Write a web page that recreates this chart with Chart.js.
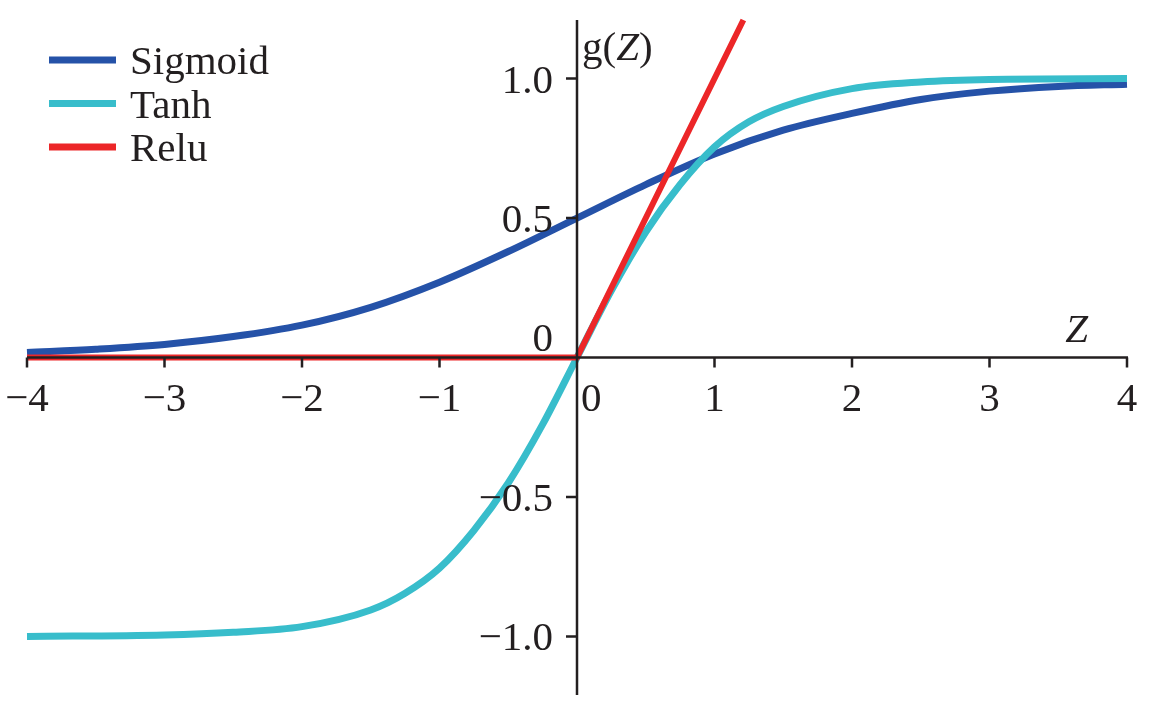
<!DOCTYPE html>
<html>
<head>
<meta charset="utf-8">
<script src="https://cdn.jsdelivr.net/npm/chart.js@4"></script>
<style>
  body { margin: 0; background: #fff; }
  canvas { display: block; }
</style>
</head>
<body>
<canvas id="actChart" width="1151" height="707"></canvas>
<script>
// values
const sigmoidZ = [-4, -3.5, -3, -2.5, -2, -1.5, -1, -0.5, 0, 0.5, 1, 1.5, 2, 2.5, 3, 3.5, 4];
const sigmoidG = [0.018, 0.03, 0.047, 0.075, 0.116, 0.18, 0.27, 0.38, 0.5, 0.62, 0.73, 0.815, 0.875, 0.925, 0.955, 0.972, 0.98];

const tanhZ = [-4, -3, -2.5, -2, -1.5, -1.25, -1, -0.75, -0.5, -0.25, 0, 0.25, 0.5, 0.75, 1, 1.25, 1.5, 2, 2.5, 3, 4];
const tanhG = [-1.0, -0.995, -0.985, -0.965, -0.905, -0.845, -0.755, -0.62, -0.45, -0.24, 0, 0.24, 0.45, 0.62, 0.755, 0.845, 0.9, 0.964, 0.988, 0.997, 1.0];

const reluZ = [-4, 0, 1.21];
const reluG = [0, 0, 1.21];

const xTicks = [-4, -3, -2, -1, 1, 2, 3, 4];
const yTicks = [-1, -0.5, 0.5, 1];
const yTickLabels = ['\u22121.0', '\u22120.5', '0.5', '1.0'];

const FONT = '41px "Liberation Serif", "Times New Roman", serif';
const FONT_IT = 'italic 41px "Liberation Serif", "Times New Roman", serif';

function pts(xs, ys) {
    return xs.map((x, i) => ({ x: x, y: ys[i] }));
}

function fmt(v) {
    return v < 0 ? '\u2212' + Math.abs(v) : String(v);
}

// axes through the origin, tick labels and legend drawn over the lines
const axesPlugin = {
    id: 'crossAxes',
    afterDatasetsDraw(chart) {
        const ctx = chart.ctx;
        const xs = chart.scales.x, ys = chart.scales.y;
        const area = chart.chartArea;
        const x0 = xs.getPixelForValue(0);
        const y0 = ys.getPixelForValue(0);

        ctx.save();
        ctx.strokeStyle = '#231f20';
        ctx.lineWidth = 2.5;
        ctx.beginPath();
        ctx.moveTo(xs.getPixelForValue(-4), y0);
        ctx.lineTo(xs.getPixelForValue(4) + 1, y0);
        ctx.moveTo(x0, area.top);
        ctx.lineTo(x0, area.bottom);
        xTicks.forEach(t => {
            const px = xs.getPixelForValue(t);
            ctx.moveTo(px, y0);
            ctx.lineTo(px, y0 + 10);
        });
        yTicks.forEach(t => {
            const py = ys.getPixelForValue(t);
            ctx.moveTo(x0, py);
            ctx.lineTo(x0 - 11, py);
        });
        ctx.stroke();

        ctx.fillStyle = '#231f20';
        ctx.font = FONT;
        ctx.textBaseline = 'alphabetic';
        ctx.textAlign = 'center';
        xTicks.forEach(t => {
            ctx.fillText(fmt(t), xs.getPixelForValue(t), y0 + 53);
        });
        ctx.textAlign = 'left';
        ctx.fillText('0', x0 + 4, y0 + 53);

        ctx.textAlign = 'right';
        yTicks.forEach((t, i) => {
            ctx.fillText(yTickLabels[i], x0 - 24, ys.getPixelForValue(t) + 14);
        });
        ctx.fillText('0', x0 - 24, y0 - 7);

        // axis titles
        ctx.textAlign = 'left';
        let gx = x0 + 5;
        const gy = area.top + 40;
        ctx.fillText('g(', gx, gy);
        gx += ctx.measureText('g(').width;
        ctx.font = FONT_IT;
        ctx.fillText('Z', gx, gy);
        gx += ctx.measureText('Z').width;
        ctx.font = FONT;
        ctx.fillText(')', gx, gy);

        ctx.font = FONT_IT;
        ctx.fillText('Z', xs.getPixelForValue(3.55), y0 - 16);

        // legend
        ctx.font = FONT;
        chart.data.datasets.forEach((ds, i) => {
            const ly = 60 + i * 43.5;
            ctx.strokeStyle = ds.borderColor;
            ctx.lineWidth = 7;
            ctx.beginPath();
            ctx.moveTo(49, ly);
            ctx.lineTo(116, ly);
            ctx.stroke();
            ctx.fillStyle = '#231f20';
            ctx.fillText(ds.label, 130, ly + 14);
        });
        ctx.restore();
    }
};

new Chart(document.getElementById('actChart').getContext('2d'), {
    type: 'line',
    data: {
        datasets: [
            {
                label: 'Sigmoid',
                data: pts(sigmoidZ, sigmoidG),
                borderColor: '#2552a8',
                borderWidth: 7,
                cubicInterpolationMode: 'monotone',
                order: 2
            },
            {
                label: 'Tanh',
                data: pts(tanhZ, tanhG),
                borderColor: '#38bdcb',
                borderWidth: 7,
                cubicInterpolationMode: 'monotone',
                order: 1
            },
            {
                label: 'Relu',
                data: pts(reluZ, reluG),
                borderColor: '#ec2628',
                borderWidth: 6,
                tension: 0,
                order: 0
            }
        ]
    },
    options: {
        responsive: false,
        animation: false,
        clip: false,
        elements: { point: { radius: 0, hoverRadius: 0 } },
        layout: { padding: { left: 27, right: 24, top: 20, bottom: 12 } },
        plugins: { legend: { display: false }, tooltip: { enabled: false } },
        scales: {
            x: { type: 'linear', min: -4, max: 4, display: false },
            y: { type: 'linear', min: -1.21, max: 1.21, display: false }
        }
    },
    plugins: [axesPlugin]
});
</script>
</body>
</html>
